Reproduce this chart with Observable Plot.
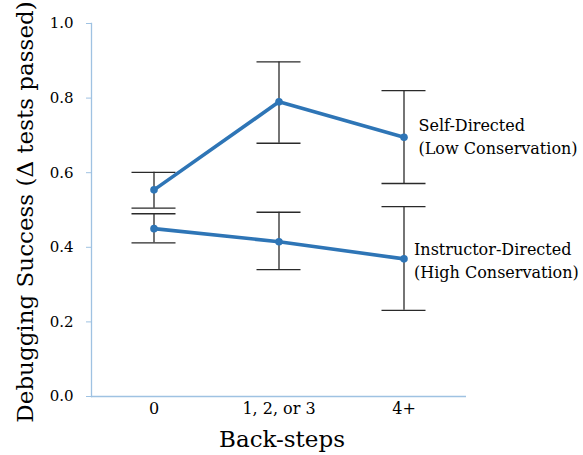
<!DOCTYPE html>
<html>
<head>
<meta charset="utf-8">
<script src="https://cdn.jsdelivr.net/npm/d3@7"></script>
<script src="https://cdn.jsdelivr.net/npm/@observablehq/plot@0.6"></script>
<style>
  html, body { margin: 0; padding: 0; background: white; }
</style>
</head>
<body>
<div id="chart"></div>
<script>
const categories = ["0", "1, 2, or 3", "4+"];
const seriesNames = ["Self-Directed\n(Low Conservation)", "Instructor-Directed\n(High Conservation)"];
const selfMean = [0.554, 0.790, 0.695];
const selfLow = [0.505, 0.679, 0.571];
const selfHigh = [0.601, 0.897, 0.820];
const instrMean = [0.450, 0.415, 0.369];
const instrLow = [0.412, 0.340, 0.231];
const instrHigh = [0.490, 0.494, 0.509];
const yTicks = [0, 0.2, 0.4, 0.6, 0.8, 1.0];
const yLabel = "Debugging Success (Δ tests passed)";
const xLabel = "Back-steps";

const rows = [];
categories.forEach((c, i) => {
  rows.push({series: seriesNames[0], cat: c, mean: selfMean[i], low: selfLow[i], high: selfHigh[i]});
});
categories.forEach((c, i) => {
  rows.push({series: seriesNames[1], cat: c, mean: instrMean[i], low: instrLow[i], high: instrHigh[i]});
});

const axisColor = "#9fc2e2";
const blue = "#2e75b6";
const barColor = "#2a2a2a";
const lastSelf = rows.filter(d => d.series === seriesNames[0] && d.cat === categories[2]);
const lastInstr = rows.filter(d => d.series === seriesNames[1] && d.cat === categories[2]);

const chart = Plot.plot({
  width: 583,
  height: 455,
  marginLeft: 91,
  marginRight: 117,
  marginTop: 23,
  marginBottom: 59,
  style: {fontFamily: "'DejaVu Serif', serif", background: "white", color: "black"},
  x: {type: "band", domain: categories, padding: 0},
  y: {domain: [0, 1]},
  marks: [
    Plot.frame({anchor: "left", stroke: axisColor, strokeWidth: 1.3}),
    Plot.ruleY([0], {stroke: axisColor, strokeWidth: 1.3}),
    Plot.axisY({ticks: yTicks, tickSize: 5, tickPadding: 13, tickFormat: d3.format(".1f"),
      stroke: axisColor, fill: "black", fontSize: 15, label: null}),
    Plot.axisX({tickSize: 0, tickPadding: 6, fontSize: 16, fill: "black", label: null}),
    Plot.ruleX(rows, {x: "cat", y1: "low", y2: "high", stroke: barColor, strokeWidth: 1.3}),
    Plot.tickY(rows, {x: "cat", y: "low", insetLeft: 40.5, insetRight: 40.5, stroke: barColor, strokeWidth: 1.3}),
    Plot.tickY(rows, {x: "cat", y: "high", insetLeft: 40.5, insetRight: 40.5, stroke: barColor, strokeWidth: 1.3}),
    Plot.line(rows, {x: "cat", y: "mean", z: "series", stroke: blue, strokeWidth: 3.6}),
    Plot.dot(rows, {x: "cat", y: "mean", r: 3.8, fill: blue, stroke: null}),
    Plot.text(lastSelf, {x: "cat", y: "mean", text: "series", textAnchor: "start", lineAnchor: "middle",
      dx: 14.5, dy: -2, lineHeight: 1.45, fontSize: 16, fill: "black"}),
    Plot.text(lastInstr, {x: "cat", y: "mean", text: "series", textAnchor: "start", lineAnchor: "middle",
      dx: 10, dy: 0, lineHeight: 1.45, fontSize: 16, fill: "black"}),
    Plot.text([yLabel], {frameAnchor: "left", rotate: -90, textAnchor: "middle", lineAnchor: "bottom",
      dx: -59, dy: 2, fontSize: 23, fill: "black"}),
    Plot.text([xLabel], {frameAnchor: "bottom", textAnchor: "middle", lineAnchor: "bottom", dy: 50, dx: 3,
      fontSize: 23, fill: "black"})
  ]
});
document.getElementById("chart").appendChild(chart);
</script>
</body>
</html>
